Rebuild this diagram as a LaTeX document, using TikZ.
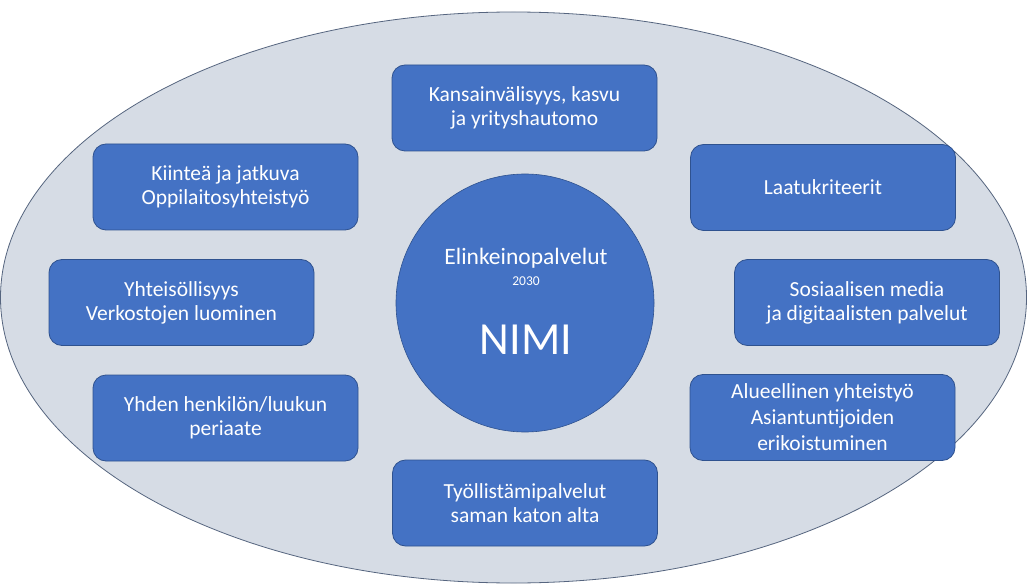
\documentclass[tikz,border=0pt]{standalone}
\usepackage{fontspec}
\setmainfont{Carlito}
\usetikzlibrary{shapes.geometric}
\definecolor{boxblue}{HTML}{4472C4}
\definecolor{boxedge}{HTML}{2F528F}
\definecolor{ovalfill}{HTML}{D6DCE5}
\definecolor{ovaledge}{HTML}{56657F}
\begin{document}
\begin{tikzpicture}[x=1pt,y=-1pt,
  topic/.style={draw=boxedge, line width=0.8pt, fill=boxblue, rounded corners=13pt,
    minimum width=265pt, minimum height=86pt, inner sep=0pt, align=center,
    text=white, font=\fontsize{21.5}{24}\selectfont},
  hub/.style={circle, draw=boxedge, line width=0.6pt, fill=boxblue, minimum size=258pt, inner sep=0pt},
  hubtext/.style={text=white, anchor=base, inner sep=0pt}]
\useasboundingbox (0,0) rectangle (1027,585);
\fill[white] (0,0) rectangle (1027,585);
\node[ellipse, draw=ovaledge, line width=0.8pt, fill=ovalfill, minimum width=1026pt, minimum height=571pt, inner sep=0pt] (oval) at (513.5,297.5) {};
\node[hub] (hub) at (525,303) {};
\node[hubtext, font=\fontsize{23.5}{27}\selectfont] (t1) at (526,264) {Elinkeinopalvelut};
\node[hubtext, font=\fontsize{13.5}{16}\selectfont] (t2) at (526,285) {2030};
\node[hubtext, font=\fontsize{46}{52}\selectfont] (t3) at (526,354) {NIMI};
\node[topic] (b1) at (524.5,108) {Kansainvälisyys, kasvu\\ja yrityshautomo};
\node[topic] (b2) at (225.5,187) {Kiinteä ja jatkuva\\Oppilaitosyhteistyö};
\node[topic] (b3) at (823,187.5) {Laatukriteerit};
\node[topic] (b4) at (181.5,302.5) {Yhteisöllisyys\\Verkostojen luominen};
\node[topic] (b5) at (867,302.5) {Sosiaalisen media\\ja digitaalisten palvelut};
\node[topic] (b6) at (225.5,418) {Yhden henkilön/luukun\\periaate};
\node[topic, font=\fontsize{21.5}{26}\selectfont] (b7) at (822.5,417.5) {Alueellinen yhteistyö\\Asiantuntijoiden\\erikoistuminen};
\node[topic] (b8) at (525,503) {Työllistämipalvelut\\saman katon alta};
\end{tikzpicture}
\end{document}
